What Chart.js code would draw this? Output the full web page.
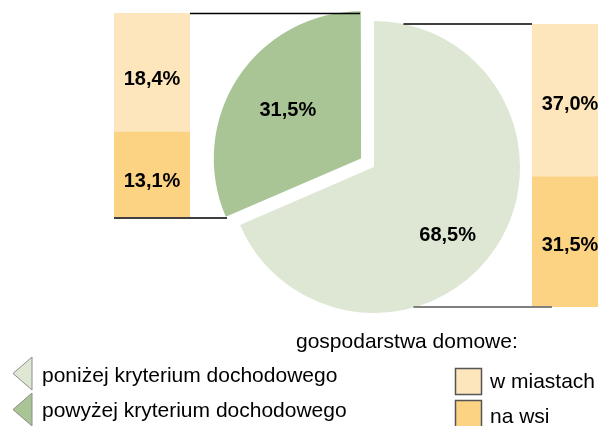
<!DOCTYPE html>
<html>
<head>
<meta charset="utf-8">
<script src="https://cdn.jsdelivr.net/npm/chart.js@4/dist/chart.umd.min.js"></script>
<style>
  body { margin: 0; overflow: hidden; background: #fff; font-family: "Liberation Sans", Arial, sans-serif; }
  #wrap { position: relative; width: 598px; height: 426px; overflow: hidden; }
  #wrap canvas { position: absolute; left: 0; top: 0; }
  .txt { position: absolute; font-size: 21px; line-height: 21px; color: #000; white-space: nowrap; }
  #marks { position: absolute; left: 0; top: 0; }
</style>
</head>
<body>
<div id="wrap">
  <canvas id="pie" width="598" height="426"></canvas>
  <canvas id="leftBar" width="598" height="426"></canvas>
  <canvas id="rightBar" width="620" height="426"></canvas>

  <svg id="marks" width="598" height="426">
    <polygon points="32,357 32,390 13,373.5" fill="#dde7d4" stroke="#8c8c8c" stroke-width="1"/>
    <polygon points="32,393 32,426 13,409.5" fill="#a9c596" stroke="#8c8c8c" stroke-width="1"/>
    <rect x="455.5" y="368.5" width="26" height="26" fill="#fde5bc" stroke="#555" stroke-width="1.5"/>
    <rect x="455.5" y="400.5" width="26" height="28" fill="#fbd383" stroke="#555" stroke-width="1.5"/>
  </svg>
  <div class="txt" style="left:296px;top:330px">gospodarstwa domowe:</div>
  <div class="txt" style="left:42px;top:364px">poniżej kryterium dochodowego</div>
  <div class="txt" style="left:42px;top:399px">powyżej kryterium dochodowego</div>
  <div class="txt" style="left:490px;top:370px">w miastach</div>
  <div class="txt" style="left:490px;top:405px">na wsi</div>
</div>

<script>
// pie: share of households below / above the income criterion
const pieLabels = ["poniżej kryterium dochodowego", "powyżej kryterium dochodowego"];
const pieValues = [68.5, 31.5];
const pieColors = ["#dde7d4", "#a9c596"];

// bars: split of each pie slice into village / town (bottom first)
const barSeries = ["na wsi", "w miastach"];
const leftValues = [13.1, 18.4];   // powyżej kryterium
const rightValues = [31.5, 37.0];  // poniżej kryterium
const barColors = ["#fbd383", "#fde5bc"];

const labelFont = 'bold 20px "Liberation Sans", Arial, sans-serif';

function fmt(v) {
  return v.toFixed(1).replace(".", ",") + "%";
}

// labels inside the pie slices
const labelDist = [0.69, 0.6];
const labelTurn = [0.17, 0];
const pieLabelPlugin = {
  id: "pieLabels",
  afterDatasetsDraw(chart) {
    const ctx = chart.ctx;
    const arcs = chart.getDatasetMeta(0).data;
    ctx.save();
    ctx.font = labelFont;
    ctx.fillStyle = "#000";
    ctx.textAlign = "center";
    ctx.textBaseline = "middle";
    arcs.forEach((arc, i) => {
      const mid = (arc.startAngle + arc.endAngle) / 2;
      const off = (arc.options.offset || 0) / 4;
      const a = mid + labelTurn[i];
      const x = arc.x + Math.cos(mid) * off + Math.cos(a) * arc.outerRadius * labelDist[i];
      const y = arc.y + Math.sin(mid) * off + Math.sin(a) * arc.outerRadius * labelDist[i];
      ctx.fillText(fmt(pieValues[i]), x, y);
    });
    ctx.restore();
  }
};

// labels inside the stacked bar segments
const barLabelPlugin = {
  id: "barLabels",
  afterDatasetsDraw(chart) {
    const ctx = chart.ctx;
    const shift = chart.canvas.id === "leftBar" ? 7 : 4;
    ctx.save();
    ctx.font = labelFont;
    ctx.fillStyle = "#000";
    ctx.textAlign = "center";
    ctx.textBaseline = "middle";
    chart.data.datasets.forEach((ds, i) => {
      const bar = chart.getDatasetMeta(i).data[0];
      ctx.fillText(fmt(ds.data[0]), bar.x, (bar.y + bar.base) / 2 + shift);
    });
    ctx.restore();
  }
};

const pieChart = new Chart(document.getElementById("pie"), {
  type: "pie",
  data: {
    labels: pieLabels,
    datasets: [{
      data: pieValues,
      backgroundColor: pieColors,
      borderWidth: 0,
      offset: [0, 62]
    }]
  },
  options: {
    responsive: false,
    animation: false,
    radius: 146,
    layout: { padding: { left: 150, right: 0, top: 0, bottom: 92 } },
    plugins: { legend: { display: false }, tooltip: { enabled: false } }
  },
  plugins: [pieLabelPlugin]
});

function makeBar(id, values, pad) {
  const total = values.reduce((a, b) => a + b, 0);
  return new Chart(document.getElementById(id), {
    type: "bar",
    data: {
      labels: [""],
      datasets: barSeries.map((s, i) => ({
        label: s,
        data: [values[i]],
        backgroundColor: barColors[i],
        borderWidth: 0,
        barPercentage: 1,
        categoryPercentage: 1
      }))
    },
    options: {
      responsive: false,
      animation: false,
      layout: { padding: pad },
      plugins: { legend: { display: false }, tooltip: { enabled: false } },
      scales: {
        x: { display: false, stacked: true },
        y: { display: false, stacked: true, min: 0, max: total }
      }
    },
    plugins: [barLabelPlugin, connectorPlugin]
  });
}

// thin lines tying each pie slice to its bar
const connectorPlugin = {
  id: "connectors",
  afterDraw(chart) {
    if (chart.canvas.id !== "rightBar") return;
    const ctx = chart.ctx;
    const arcs = pieChart.getDatasetMeta(0).data;
    const big = arcs[0], small = arcs[1];
    const r = big.outerRadius;

    const mid = (small.startAngle + small.endAngle) / 2;
    const off = (small.options.offset || 0) / 4;
    const sx = small.x + Math.cos(mid) * off;
    const sy = small.y + Math.sin(mid) * off;
    const topCorner = [sx + r * Math.cos(small.endAngle), sy + r * Math.sin(small.endAngle)];
    const lowCorner = [sx + r * Math.cos(small.startAngle), sy + r * Math.sin(small.startAngle)];

    const lb = leftChart.getDatasetMeta(1).data[0];
    const lbBase = leftChart.getDatasetMeta(0).data[0].base;
    const rb = chart.getDatasetMeta(1).data[0];
    const rbBase = chart.getDatasetMeta(0).data[0].base;
    const circleX = y => big.x + Math.sqrt(Math.max(r * r - (y - big.y) * (y - big.y), 0));

    ctx.save();
    ctx.strokeStyle = "#000";
    ctx.lineWidth = 1.5;
    ctx.beginPath();
    ctx.moveTo(lb.x + lb.width / 2, lb.y + 0.5);
    ctx.lineTo(topCorner[0] - 1, lb.y + 0.5);
    ctx.moveTo(lb.x - lb.width / 2, lbBase + 1);
    ctx.lineTo(lowCorner[0], lbBase + 1);
    ctx.moveTo(circleX(rb.y), rb.y);
    ctx.lineTo(rb.x - rb.width / 2, rb.y);
    ctx.stroke();

    ctx.strokeStyle = "#7f7f7f";
    ctx.lineWidth = 2;
    ctx.beginPath();
    ctx.moveTo(circleX(rbBase) - 2, rbBase);
    ctx.lineTo(rb.x - rb.width / 2 + 20, rbBase);
    ctx.stroke();
    ctx.restore();
  }
};

const leftChart = makeBar("leftBar", leftValues, { left: 114, right: 408, top: 13, bottom: 209 });
const rightChart = makeBar("rightBar", rightValues, { left: 532, right: 12, top: 24, bottom: 119 });
</script>
</body>
</html>
